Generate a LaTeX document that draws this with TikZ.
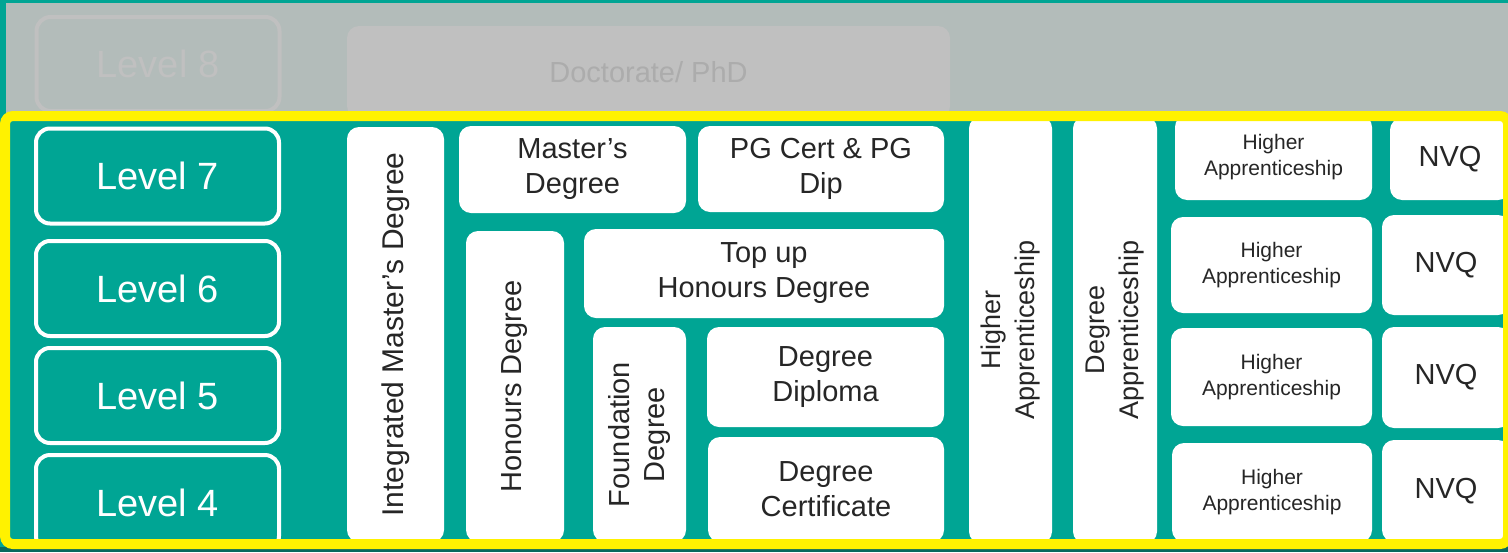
\documentclass[tikz,border=0pt]{standalone}
\usepackage{fontspec}
\setmainfont{Liberation Sans}
\definecolor{teal}{RGB}{0,165,148}
\definecolor{deepteal}{RGB}{8,104,94}
\definecolor{haze}{RGB}{179,188,186}
\definecolor{fog}{RGB}{192,192,192}
\definecolor{fogtext}{RGB}{172,172,172}
\definecolor{ink}{RGB}{38,38,38}
\begin{document}
\begin{tikzpicture}[x=0.5pt,y=-0.5pt,
		lvl/.style={draw=white, line width=2pt, rounded corners=7pt, text=white, inner sep=0pt,
			minimum width=121.5pt, minimum height=47.5pt, font=\fontsize{19}{22}\selectfont},
		card/.style={fill=white, rounded corners=6pt, text=ink, align=center, inner sep=0pt,
			font=\fontsize{14.5}{17.5}\selectfont},
		smalltext/.style={font=\fontsize{10.5}{13}\selectfont},
		up/.style={rotate=90}]
		\useasboundingbox (0,0) rectangle (1508,552);
		\fill[teal] (0,0) rectangle (1508,552);
		\fill[haze] (6,3) rectangle (1508,116);
		\node[lvl, draw=fog, text=fog, minimum height=47pt] (lvleight) at (158,64) {Level 8};
		\node[card, fill=fog, text=fogtext, minimum width=301.5pt, minimum height=46pt] (doc) at (648.5,72) {Doctorate/ PhD};
		\node[lvl] (lvlseven) at (157.5,176) {Level 7};
		\node[lvl] (lvlsix) at (157.5,288.5) {Level 6};
		\node[lvl] (lvlfive) at (157.5,395.5) {Level 5};
		\node[lvl] (lvlfour) at (157.5,502.5) {Level 4};
		\node[card, up, font=\fontsize{15}{18}\selectfont, minimum width=207.5pt, minimum height=48.5pt] (imd) at (395.5,334.5) {Integrated Master’s Degree};
		\node[card, minimum width=113.5pt, minimum height=43.5pt] (mast) at (572.5,169.5) {Master’s\\Degree};
		\node[card, minimum width=123pt, minimum height=43pt] (pg) at (821,169) {PG Cert \& PG\\Dip};
		\node[card, up, minimum width=155.5pt, minimum height=49pt] (hons) at (515,386.5) {Honours Degree};
		\node[card, minimum width=180pt, minimum height=44.5pt] (topup) at (764,273.5) {Top up\\Honours Degree};
		\node[card, up, minimum width=107.5pt, minimum height=46.5pt] (found) at (639.5,434.5) {Foundation\\Degree};
		\node[card, minimum width=118.5pt, minimum height=50pt] (dipl) at (825.5,377) {Degree\\Diploma};
		\node[card, minimum width=118pt, minimum height=52.5pt] (cert) at (826,489.5) {Degree\\Certificate};
		\node[card, up, font=\fontsize{13.5}{17}\selectfont, minimum width=213.5pt, minimum height=41.5pt] (hav) at (1010.5,330) {Higher\\Apprenticeship};
		\node[card, up, font=\fontsize{13.5}{17}\selectfont, minimum width=213.5pt, minimum height=42pt] (dav) at (1115,330) {Degree\\Apprenticeship};
		\node[card, smalltext, minimum width=98.5pt, minimum height=42.5pt] (haone) at (1273.5,157.5) {Higher\\Apprenticeship};
		\node[card, minimum width=60pt, minimum height=41pt] (nvqone) at (1450,159) {NVQ};
		\node[card, smalltext, minimum width=100.5pt, minimum height=48pt] (hatwo) at (1271.5,265) {Higher\\Apprenticeship};
		\node[card, minimum width=64pt, minimum height=50pt] (nvqtwo) at (1446,265) {NVQ};
		\node[card, smalltext, minimum width=100.5pt, minimum height=49pt] (hathree) at (1271.5,377) {Higher\\Apprenticeship};
		\node[card, minimum width=64pt, minimum height=50.5pt] (nvqthree) at (1446,377.5) {NVQ};
		\node[card, smalltext, minimum width=100pt, minimum height=49.5pt] (hafour) at (1272,492.5) {Higher\\Apprenticeship};
		\node[card, minimum width=64pt, minimum height=51pt] (nvqfour) at (1446,491) {NVQ};
		\fill[deepteal] (0,547) rectangle (1508,552);
		\draw[yellow, line width=5pt, rounded corners=4pt] (5,116) rectangle (1508,544);
\end{tikzpicture}
\end{document}
